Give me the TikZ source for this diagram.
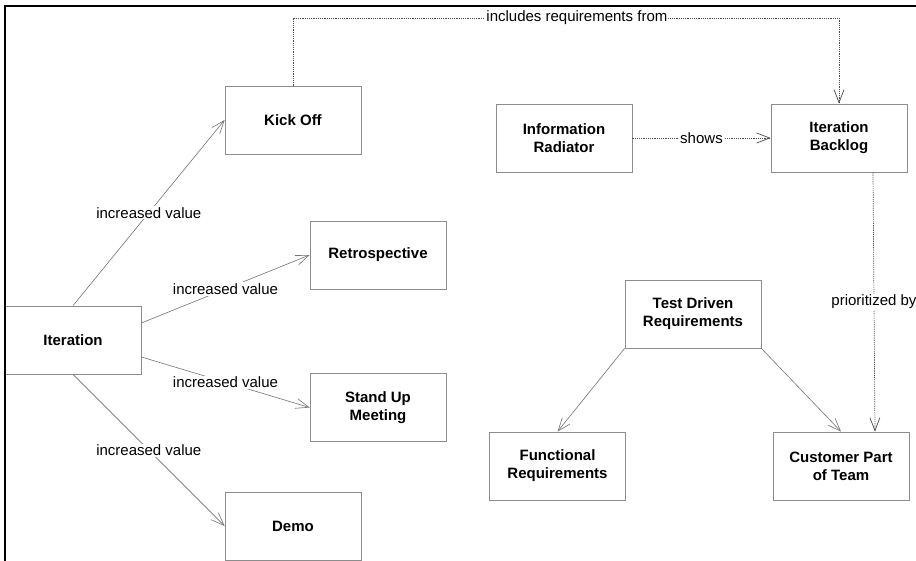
\documentclass[tikz,border=0pt]{standalone}
\usepackage{fontspec}
\setmainfont{Liberation Sans}
\usetikzlibrary{arrows.meta}
\newcommand{\boxfont}{\fontsize{15}{18}\selectfont\bfseries}
\newcommand{\linkfont}{\fontsize{15}{18}\selectfont}
\begin{document}
\begin{tikzpicture}[x=1pt,y=-1pt,
    box/.style={draw=black!45,line width=0.8pt,fill=white,minimum width=136pt,minimum height=68pt,inner sep=0pt,align=center,font=\boxfont},
    link/.style={draw=black!55,line width=0.6pt,-{Straight Barb[length=13pt,width=10pt]}},
    deplink/.style={link,draw=black!70,line width=0.7pt,dash pattern=on 1.2pt off 1pt},
    lbl/.style={fill=white,inner sep=1pt,font=\linkfont}]
  \useasboundingbox (0,0) rectangle (916,560);
  \fill[white] (0,0) rectangle (916,560);
  \clip (0,0) rectangle (916,560);
  % left part
  \node[box] (iter) at (73,340) {Iteration};
  \node[box] (kickoff) at (293,120) {Kick Off};
  \node[box] (retro) at (378,255) {Retrospective};
  \node[box] (standup) at (378,407.5) {Stand Up\\Meeting};
  \node[box] (demo) at (293,526) {Demo};
  % right part
  \node[box] (inforad) at (564,138) {Information\\Radiator};
  \node[box] (backlog) at (839,138) {Iteration\\Backlog};
  \node[box] (tdr) at (693,314) {Test Driven\\Requirements};
  \node[box] (funcreq) at (557.5,466) {Functional\\Requirements};
  \node[box] (customer) at (841,466) {Customer Part\\of Team};
  % links
  \draw[link] (iter.north) -- node[lbl]{increased value} (kickoff.west);
  \draw[link] ([yshift=17pt]iter.east) -- node[lbl]{increased value} (retro.west);
  \draw[link] ([yshift=-17pt]iter.east) -- node[lbl]{increased value} (standup.west);
  \draw[link] (iter.south) -- node[lbl]{increased value} (demo.west);
  \draw[deplink] (kickoff.north) -- (kickoff.north |- 0,18) -| node[lbl,pos=0.26]{includes requirements from} (backlog.north);
  \draw[deplink] (inforad.east) -- node[lbl]{shows} (backlog.west);
  \draw[deplink] ([xshift=34pt]backlog.south) -- node[lbl]{prioritized by} ([xshift=34pt]customer.north);
  \draw[link] (tdr.south west) -- (funcreq.north);
  \draw[link] (tdr.south east) -- (customer.north);
  % frame
  \draw[line width=2.5pt] (5,600) -- (5,6) -- (950,6);
\end{tikzpicture}
\end{document}
